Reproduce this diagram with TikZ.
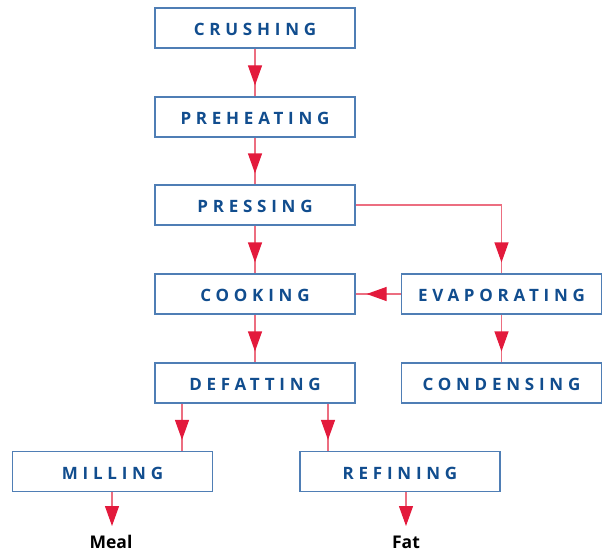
\documentclass[tikz,border=0pt]{standalone}
\usepackage{fontspec}
\setmainfont{Open Sans}
\newfontfamily\boxfont[LetterSpace=28]{Open Sans}
\usetikzlibrary{arrows.meta,decorations.markings}
\definecolor{boxblue}{HTML}{4F7EB5}
\definecolor{txtblue}{HTML}{114D8E}
\definecolor{arrred}{HTML}{E31A3C}
\definecolor{linered}{HTML}{EC6E80}
\tikzset{
  stepbox/.style={draw=boxblue,line width=1.2pt,fill=white,minimum width=200pt,minimum height=40pt,inner sep=0pt,
    text height=15pt,text depth=0pt,
    font=\boxfont\bfseries\fontsize{17}{20}\selectfont,text=txtblue},
  flow/.style={draw=linered,line width=1.2pt},
  midarrow/.style={flow,postaction={decorate},decoration={markings,mark=at position -11pt with {\arrow[arrred]{Triangle[width=14pt,length=20pt]}}}},
  endarrow/.style={flow,-{Triangle[width=14pt,length=20pt,color=arrred]}},
  outlabel/.style={font=\bfseries\fontsize{17.5}{20}\selectfont,text=black,anchor=base,inner sep=0pt}
}
\begin{document}
\begin{tikzpicture}[x=1pt,y=-1pt]
\useasboundingbox (0,0) rectangle (602,551);
\node[stepbox] (crush) at (255,28) {CRUSHING};
\node[stepbox] (preh) at (255,117) {PREHEATING};
\node[stepbox] (press) at (255,205) {PRESSING};
\node[stepbox] (cook) at (255,294) {COOKING};
\node[stepbox] (evap) at (501.5,294) {EVAPORATING};
\node[stepbox] (defat) at (255,383) {DEFATTING};
\node[stepbox] (cond) at (501.5,383) {CONDENSING};
\node[stepbox] (mill) at (112.5,471.5) {MILLING};
\node[stepbox] (ref) at (400,471.5) {REFINING};
\node[outlabel] (meal) at (111,548) {Meal};
\node[outlabel] (fat) at (406,548) {Fat};
\coordinate (corner) at (evap.north |- press.east);
\coordinate (mealtip) at (112,526);
\coordinate (fattip) at (406,526);
\draw[midarrow] (crush) -- (preh);
\draw[midarrow] (preh) -- (press);
\draw[midarrow] (press) -- (cook);
\draw[flow] (press.east) -- (corner);
\draw[midarrow] (corner) -- (evap.north);
\draw[midarrow] (evap.west) -- (cook.east);
\draw[midarrow] (evap) -- (cond);
\draw[midarrow] (cook) -- (defat);
\draw[midarrow] (defat.south -| 182,0) -- (mill.north -| 182,0);
\draw[midarrow] (defat.south -| 328,0) -- (ref.north -| 328,0);
\draw[endarrow] (mill.south -| mealtip) -- (mealtip);
\draw[endarrow] (ref.south -| fattip) -- (fattip);
\end{tikzpicture}
\end{document}
